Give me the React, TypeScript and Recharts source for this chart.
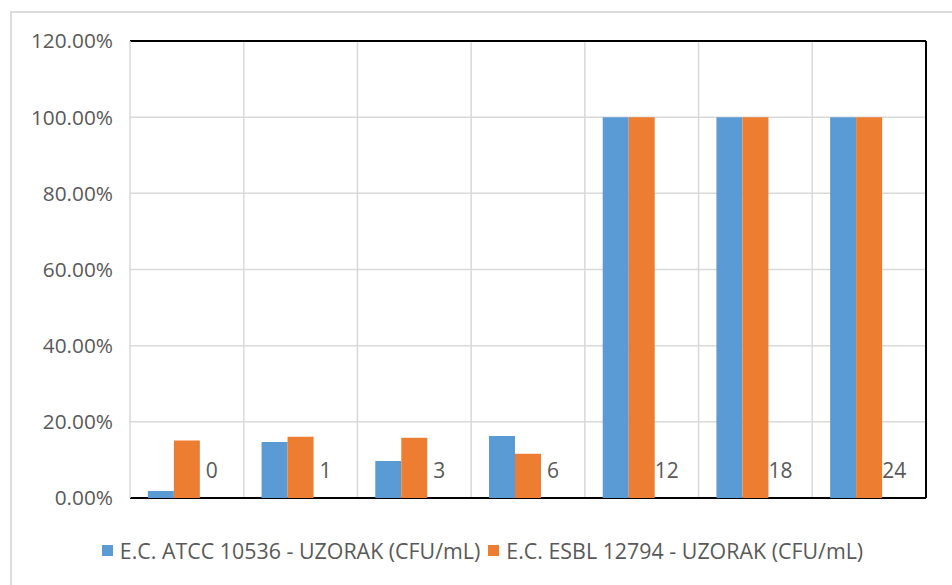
import React from 'react';
import { BarChart, Bar, XAxis, YAxis, CartesianGrid, Legend } from 'recharts';

const categories = ['0', '1', '3', '6', '12', '18', '24'];
const atccValues = [0.0185, 0.147, 0.097, 0.163, 1.0, 1.0, 1.0];
const esblValues = [0.151, 0.161, 0.158, 0.116, 1.0, 1.0, 1.0];
const yTicks = [0, 0.2, 0.4, 0.6, 0.8, 1.0, 1.2];
const seriesNames = ['E.C. ATCC 10536 - UZORAK (CFU/mL)', 'E.C. ESBL 12794 - UZORAK (CFU/mL)'];
const colors = ['#5B9BD5', '#ED7D31'];

const data = categories.map((c, i) => ({
  time: c,
  atcc: atccValues[i],
  esbl: esblValues[i],
  labelHolder: 0,
}));

const FONT = '"Open Sans", "Noto Sans", sans-serif';
const TEXT = '#595959';

const CatTick = (props: any) => {
  const { x, y, payload } = props;
  return (
    <text
      x={Number(x) + 25}
      y={Number(y) - 28}
      textAnchor="middle"
      dominantBaseline="central"
      fill={TEXT}
      fontSize={21}
      fontFamily={FONT}
    >
      {payload.value}
    </text>
  );
};

const LegendContent = () => (
  <div
    style={{
      height: 65,
      display: 'flex',
      justifyContent: 'center',
      alignItems: 'center',
      paddingTop: 38,
      paddingLeft: 13,
      boxSizing: 'border-box',
      fontFamily: FONT,
      fontSize: 21.4,
      color: TEXT,
    }}
  >
    {seriesNames.map((n, i) => (
      <div key={n} style={{ display: 'flex', alignItems: 'center', marginRight: i === 0 ? 8 : 0 }}>
        <span style={{ width: 11, height: 11, background: colors[i], display: 'inline-block', marginRight: 7 }} />
        <span>{n}</span>
      </div>
    ))}
  </div>
);

const boundaryGen = ({ offset }: any) =>
  categories.slice(1).map((_, i) => offset.left + ((i + 1) * offset.width) / categories.length);

export default function App() {
  return (
    <div style={{ position: 'absolute', left: 0, top: 0, width: 952, height: 585, background: '#fff', overflow: 'hidden' }}>
      <div
        style={{
          position: 'absolute',
          left: 10,
          top: 11,
          width: 980,
          height: 620,
          border: '2px solid #dcdcdc',
          boxSizing: 'border-box',
        }}
      />
      <div style={{ position: 'absolute', left: 0, top: 0 }}>
        <BarChart
          width={952}
          height={585}
          data={data}
          margin={{ top: 41, right: 26, bottom: 21, left: 0 }}
          barCategoryGap="15.7%"
          barGap={0}
        >
          <CartesianGrid stroke="#d9d9d9" strokeWidth={1.5} verticalCoordinatesGenerator={boundaryGen} />
          <CartesianGrid
            stroke="#000"
            strokeWidth={2}
            horizontalCoordinatesGenerator={({ offset }: any) => [offset.top, offset.top + offset.height]}
            verticalCoordinatesGenerator={({ offset }: any) => [offset.left + offset.width]}
          />
          <XAxis
            dataKey="time"
            axisLine={false}
            tick={<CatTick />}
            tickLine={false}
            tickSize={0}
            tickMargin={0}
            height={1}
            interval={0}
          />
          <YAxis
            domain={[0, 1.2]}
            ticks={yTicks}
            tickFormatter={(v: number) => `${(v * 100).toFixed(2)}%`}
            axisLine={{ stroke: '#d9d9d9', strokeWidth: 1.5 }}
            tickLine={false}
            tickSize={0}
            tickMargin={17}
            width={130}
            tick={{ fill: TEXT, fontSize: 20.8, fontFamily: FONT }}
            interval={0}
          />
          <Legend verticalAlign="bottom" content={<LegendContent />} wrapperStyle={{ left: 0, width: 952 }} />
          <Bar dataKey="atcc" name={seriesNames[0]} fill={colors[0]} isAnimationActive={false} />
          <Bar dataKey="esbl" name={seriesNames[1]} fill={colors[1]} isAnimationActive={false} />
          <Bar dataKey="labelHolder" fill="transparent" legendType="none" isAnimationActive={false} />
        </BarChart>
      </div>
    </div>
  );
}
